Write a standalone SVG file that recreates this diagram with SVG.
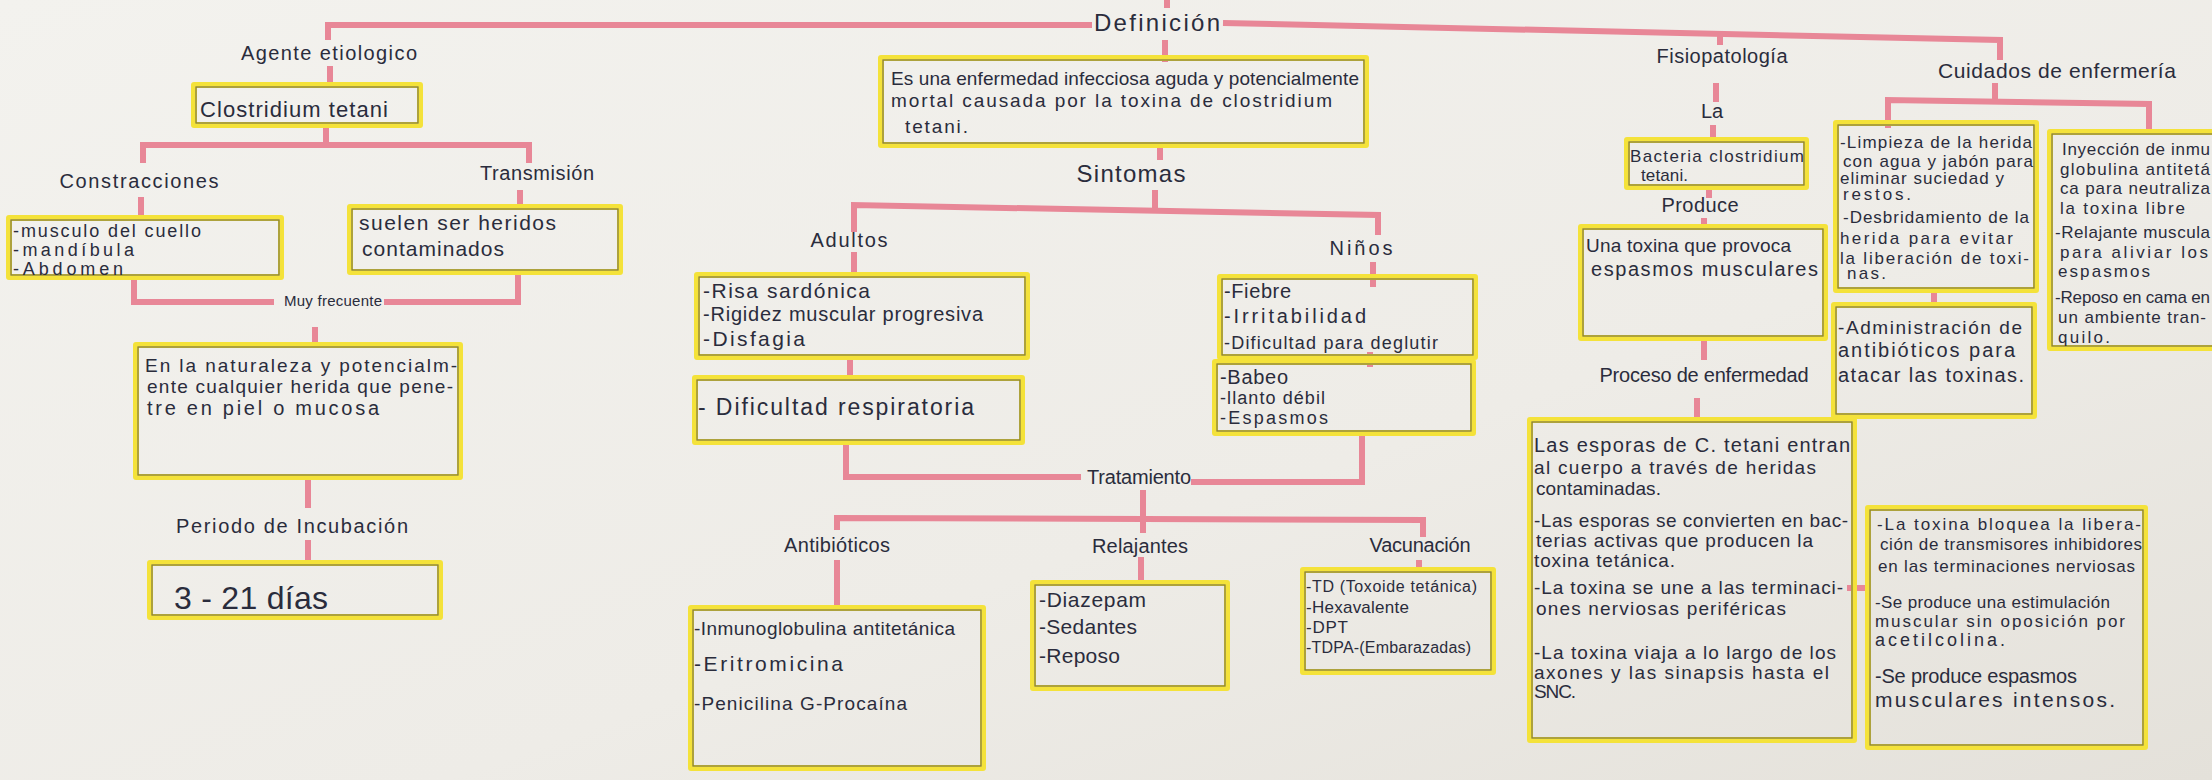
<svg xmlns="http://www.w3.org/2000/svg" width="2212" height="780" viewBox="0 0 2212 780">
<defs>
<linearGradient id="bg" x1="0" y1="0" x2="1" y2="1">
<stop offset="0" stop-color="#f3f2ee"/>
<stop offset="0.6" stop-color="#eeece7"/>
<stop offset="1" stop-color="#e4e1da"/>
</linearGradient>
<style>
.box{fill:none;stroke:#f4e23a;stroke-width:6;stroke-linejoin:round}
.pen{fill:none;stroke:#4b4a42;stroke-width:1.2;opacity:0.7}
.con{fill:none;stroke:#e88797;stroke-width:6;stroke-linecap:butt;stroke-linejoin:miter}
.t{font-family:"Liberation Sans",Arial,sans-serif;fill:#2a2c3c;font-size:19px}
.lbl{font-family:"Liberation Sans",Arial,sans-serif;fill:#2a2c3c;font-size:20px;text-anchor:middle}
.big{font-size:24px}
.sm{font-size:16px}
.m{font-size:17px}
.f17{font-size:17px}
.f18{font-size:18px}
.f20{font-size:20px}
.f21{font-size:21px}
.f22{font-size:22px}
.f23{font-size:23px}
.f15{font-size:15px}
.f32{font-size:32px}
</style>
</defs>
<rect width="2212" height="780" fill="url(#bg)"/>

<g id="connectors">
<path class="con" d="M328,40 V25 H1092"/>
<path class="con" d="M1223,23 L2000,40 V60"/>
<path class="con" d="M1720,33 V45"/>
<path class="con" d="M1167,0 V8"/>
<path class="con" d="M1165,40 V62"/>
<path class="con" d="M330,66 V85"/>
<path class="con" d="M326,125 V145"/>
<path class="con" d="M143,163 V145 H529 V163"/>
<path class="con" d="M141,197 V220"/>
<path class="con" d="M520,190 V207"/>
<path class="con" d="M134,277 V302 H274"/>
<path class="con" d="M384,302 H518 V272"/>
<path class="con" d="M315,327 V345"/>
<path class="con" d="M308,477 V508"/>
<path class="con" d="M308,540 V566"/>
<path class="con" d="M1160,145 V160"/>
<path class="con" d="M1155,190 V208"/>
<path class="con" d="M854,232 V205 L1378,215 V235"/>
<path class="con" d="M854,252 V275"/>
<path class="con" d="M850,357 V378"/>
<path class="con" d="M1373,262 V287"/>
<path class="con" d="M1370,352 V367"/>
<path class="con" d="M846,442 V477 H1081"/>
<path class="con" d="M1191,482 H1362 V433"/>
<path class="con" d="M1143,490 V533"/>
<path class="con" d="M837,530 V518 L1423,520 V537"/>
<path class="con" d="M837,560 V608"/>
<path class="con" d="M1141,557 V585"/>
<path class="con" d="M1419,560 V573"/>
<path class="con" d="M1716,83 V102"/>
<path class="con" d="M1713,125 V143"/>
<path class="con" d="M1709,187 V198"/>
<path class="con" d="M1704,218 V230"/>
<path class="con" d="M1704,338 V360"/>
<path class="con" d="M1697,398 V422"/>
<path class="con" d="M1995,83 V100"/>
<path class="con" d="M1888,128 V100 L2149,104 V135"/>
<path class="con" d="M1934,290 V305"/>
<path class="con" d="M1847,588 H1870"/>
</g>

<g id="n-agente"><text class="lbl" x="329" y="60" textLength="176">Agente etiologico</text></g>
<g id="n-clostridium">
<rect class="box" x="194" y="85" width="226" height="40"/>
<rect class="pen" x="196" y="87" width="222" height="36"/>
<text class="t f22" x="200" y="117" textLength="188">Clostridium tetani</text>
</g>
<g id="n-constracciones"><text class="lbl" x="139" y="188" textLength="159">Constracciones</text></g>
<g id="n-transmision"><text class="lbl" x="537" y="180" textLength="114">Transmisión</text></g>
<g id="n-musculos">
<rect class="box" x="9" y="218" width="272" height="59"/>
<rect class="pen" x="11" y="220" width="268" height="55"/>
<text class="t f18" x="13" y="237" textLength="188">-musculo del cuello</text>
<text class="t f18" x="13" y="256" textLength="121">-mandíbula</text>
<text class="t f18" x="13" y="275" textLength="110">-Abdomen</text>
</g>
<g id="n-heridas">
<rect class="box" x="350" y="207" width="270" height="65"/>
<rect class="pen" x="352" y="209" width="266" height="61"/>
<text class="t f21" x="359" y="230" textLength="197">suelen ser heridos</text>
<text class="t f21" x="362" y="256" textLength="142">contaminados</text>
</g>
<g id="n-muyfrecuente"><text class="lbl f15" x="333" y="306" textLength="98">Muy frecuente</text></g>
<g id="n-naturaleza">
<rect class="box" x="136" y="345" width="324" height="132"/>
<rect class="pen" x="138" y="347" width="320" height="128"/>
<text class="t" x="145" y="372" textLength="312">En la naturaleza y potencialm-</text>
<text class="t" x="147" y="393" textLength="306">ente cualquier herida que pene-</text>
<text class="t f20" x="147" y="415" textLength="232">tre en piel o mucosa</text>
</g>
<g id="n-periodo"><text class="lbl" x="292" y="533" textLength="232">Periodo de Incubación</text></g>
<g id="n-dias">
<rect class="box" x="150" y="563" width="290" height="54"/>
<rect class="pen" x="152" y="565" width="286" height="50"/>
<text class="t f32" x="174" y="609" textLength="154">3 - 21 días</text>
</g>

<g id="n-definicion-label"><text class="lbl big" x="1157" y="31" textLength="126">Definición</text></g>
<g id="n-definicion">
<rect class="box" x="881" y="58" width="485" height="87"/>
<rect class="pen" x="883" y="60" width="481" height="83"/>
<text class="t" x="891" y="85" textLength="468">Es una enfermedad infecciosa aguda y potencialmente</text>
<text class="t" x="891" y="107" textLength="441">mortal causada por la toxina de clostridium</text>
<text class="t" x="905" y="133" textLength="63">tetani.</text>
</g>
<g id="n-sintomas"><text class="lbl big" x="1131" y="182" textLength="109">Sintomas</text></g>
<g id="n-adultos"><text class="lbl" x="849" y="247" textLength="77">Adultos</text></g>
<g id="n-ninos"><text class="lbl" x="1361" y="255" textLength="63">Niños</text></g>
<g id="n-adultos1">
<rect class="box" x="697" y="275" width="330" height="82"/>
<rect class="pen" x="699" y="277" width="326" height="78"/>
<text class="t f21" x="703" y="298" textLength="167">-Risa sardónica</text>
<text class="t f20" x="703" y="321" textLength="280">-Rigidez muscular progresiva</text>
<text class="t f21" x="703" y="346" textLength="102">-Disfagia</text>
</g>
<g id="n-adultos2">
<rect class="box" x="695" y="378" width="327" height="64"/>
<rect class="pen" x="697" y="380" width="323" height="60"/>
<text class="t f23" x="698" y="415" textLength="276">- Dificultad respiratoria</text>
</g>
<g id="n-ninos1">
<rect class="box" x="1220" y="277" width="255" height="80"/>
<rect class="pen" x="1222" y="279" width="251" height="76"/>
<text class="t f20" x="1224" y="298" textLength="67">-Fiebre</text>
<text class="t f20" x="1224" y="323" textLength="142">-Irritabilidad</text>
<text class="t f18" x="1224" y="349" textLength="214">-Dificultad para deglutir</text>
</g>
<g id="n-ninos2">
<rect class="box" x="1215" y="362" width="258" height="71"/>
<rect class="pen" x="1217" y="364" width="254" height="67"/>
<text class="t f20" x="1220" y="384" textLength="68">-Babeo</text>
<text class="t f18" x="1220" y="404" textLength="105">-llanto débil</text>
<text class="t f18" x="1220" y="424" textLength="108">-Espasmos</text>
</g>
<g id="n-tratamiento"><text class="lbl" x="1139" y="484" textLength="104">Tratamiento</text></g>
<g id="n-antibioticos-label"><text class="lbl" x="837" y="552" textLength="106">Antibióticos</text></g>
<g id="n-relajantes-label"><text class="lbl" x="1140" y="553" textLength="96">Relajantes</text></g>
<g id="n-vacunacion-label"><text class="lbl" x="1420" y="552" textLength="101">Vacunación</text></g>
<g id="n-antibioticos">
<rect class="box" x="691" y="608" width="292" height="160"/>
<rect class="pen" x="693" y="610" width="288" height="156"/>
<text class="t" x="694" y="635" textLength="261">-Inmunoglobulina antitetánica</text>
<text class="t f21" x="694" y="671" textLength="149">-Eritromicina</text>
<text class="t" x="694" y="710" textLength="213">-Penicilina G-Procaína</text>
</g>
<g id="n-relajantes">
<rect class="box" x="1033" y="583" width="194" height="105"/>
<rect class="pen" x="1035" y="585" width="190" height="101"/>
<text class="t f21" x="1039" y="607" textLength="107">-Diazepam</text>
<text class="t f21" x="1039" y="634" textLength="98">-Sedantes</text>
<text class="t f21" x="1039" y="663" textLength="81">-Reposo</text>
</g>
<g id="n-vacunacion">
<rect class="box" x="1303" y="570" width="190" height="102"/>
<rect class="pen" x="1305" y="572" width="186" height="98"/>
<text class="t sm" x="1306" y="592" textLength="171">-TD (Toxoide tetánica)</text>
<text class="t f17" x="1306" y="613" textLength="103">-Hexavalente</text>
<text class="t f17" x="1306" y="633" textLength="42">-DPT</text>
<text class="t sm" x="1306" y="653" textLength="165">-TDPA-(Embarazadas)</text>
</g>

<g id="n-fisiopatologia"><text class="lbl" x="1722" y="63" textLength="131">Fisiopatología</text></g>
<g id="n-la"><text class="lbl" x="1712" y="118">La</text></g>
<g id="n-bacteria">
<rect class="box" x="1627" y="140" width="179" height="47"/>
<rect class="pen" x="1629" y="142" width="175" height="43"/>
<text class="t m" x="1630" y="162" textLength="174">Bacteria clostridium</text>
<text class="t m" x="1641" y="181" textLength="47">tetani.</text>
</g>
<g id="n-produce"><text class="lbl" x="1700" y="212" textLength="77">Produce</text></g>
<g id="n-toxina">
<rect class="box" x="1581" y="227" width="244" height="111"/>
<rect class="pen" x="1583" y="229" width="240" height="107"/>
<text class="t" x="1586" y="252" textLength="205">Una toxina que provoca</text>
<text class="t f20" x="1591" y="276" textLength="227">espasmos musculares</text>
</g>
<g id="n-proceso-label"><text class="lbl" x="1704" y="382" textLength="209">Proceso de enfermedad</text></g>
<g id="n-proceso">
<rect class="box" x="1530" y="420" width="324" height="320"/>
<rect class="pen" x="1532" y="422" width="320" height="316"/>
<text class="t f20" x="1534" y="452" textLength="316">Las esporas de C. tetani entran</text>
<text class="t" x="1534" y="474" textLength="282">al cuerpo a través de heridas</text>
<text class="t" x="1536" y="495" textLength="125">contaminadas.</text>
<text class="t" x="1534" y="527" textLength="314">-Las esporas se convierten en bac-</text>
<text class="t" x="1536" y="547" textLength="277">terias activas que producen la</text>
<text class="t" x="1534" y="567" textLength="141">toxina tetánica.</text>
<text class="t" x="1534" y="594" textLength="309">-La toxina se une a las terminaci-</text>
<text class="t" x="1536" y="615" textLength="250">ones nerviosas periféricas</text>
<text class="t" x="1534" y="659" textLength="302">-La toxina viaja a lo largo de los</text>
<text class="t" x="1534" y="679" textLength="295">axones y las sinapsis hasta el</text>
<text class="t" x="1534" y="698" textLength="42">SNC.</text>
</g>
<g id="n-mecanismo">
<rect class="box" x="1868" y="508" width="277" height="239"/>
<rect class="pen" x="1870" y="510" width="273" height="235"/>
<text class="t m" x="1877" y="530" textLength="264">-La toxina bloquea la libera-</text>
<text class="t m" x="1880" y="550" textLength="262">ción de transmisores inhibidores</text>
<text class="t m" x="1878" y="572" textLength="257">en las terminaciones nerviosas</text>
<text class="t m" x="1875" y="608" textLength="235">-Se produce una estimulación</text>
<text class="t m" x="1875" y="627" textLength="250">muscular sin oposición por</text>
<text class="t f18" x="1875" y="646" textLength="130">acetilcolina.</text>
<text class="t f20" x="1875" y="683" textLength="202">-Se produce espasmos</text>
<text class="t f21" x="1875" y="707" textLength="240">musculares intensos.</text>
</g>

<g id="n-cuidados"><text class="lbl f21" x="2057" y="78" textLength="238">Cuidados de enfermería</text></g>
<g id="n-cuidados1">
<rect class="box" x="1836" y="123" width="200" height="167"/>
<rect class="pen" x="1838" y="125" width="196" height="163"/>
<text class="t m" x="1840" y="148" textLength="192">-Limpieza de la herida</text>
<text class="t m" x="1843" y="167" textLength="190">con agua y jabón para</text>
<text class="t m" x="1840" y="184" textLength="164">eliminar suciedad y</text>
<text class="t m" x="1843" y="200" textLength="68">restos.</text>
<text class="t m" x="1843" y="223" textLength="186">-Desbridamiento de la</text>
<text class="t m" x="1840" y="244" textLength="173">herida para evitar</text>
<text class="t m" x="1840" y="264" textLength="189">la liberación de toxi-</text>
<text class="t m" x="1847" y="279" textLength="39">nas.</text>
</g>
<g id="n-cuidados2">
<rect class="box" x="1834" y="305" width="200" height="111"/>
<rect class="pen" x="1836" y="307" width="196" height="107"/>
<text class="t" x="1838" y="334" textLength="184">-Administración de</text>
<text class="t f20" x="1838" y="357" textLength="177">antibióticos para</text>
<text class="t f20" x="1838" y="382" textLength="186">atacar las toxinas.</text>
</g>
<g id="n-cuidados3">
<rect class="box" x="2050" y="132" width="190" height="216"/>
<rect class="pen" x="2052" y="134" width="186" height="212"/>
<text class="t m" x="2062" y="155" textLength="148">Inyección de inmu</text>
<text class="t m" x="2060" y="175" textLength="150">globulina antitetá</text>
<text class="t m" x="2060" y="194" textLength="150">ca para neutraliza</text>
<text class="t m" x="2060" y="214" textLength="125">la toxina libre</text>
<text class="t m" x="2055" y="238" textLength="155">-Relajante muscula</text>
<text class="t m" x="2060" y="258" textLength="148">para aliviar los</text>
<text class="t m" x="2058" y="277" textLength="92">espasmos</text>
<text class="t m" x="2055" y="303" textLength="155">-Reposo en cama en</text>
<text class="t m" x="2058" y="323" textLength="148">un ambiente tran-</text>
<text class="t m" x="2058" y="343" textLength="52">quilo.</text>
</g>
</svg>
